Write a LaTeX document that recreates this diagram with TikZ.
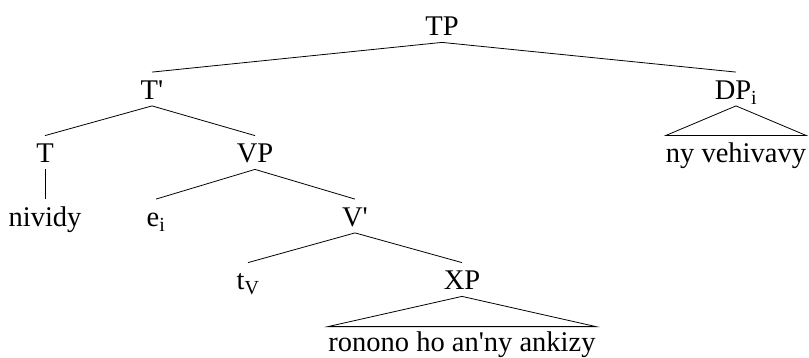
\documentclass[tikz,border=0pt]{standalone}
\usepackage{fontspec}
\setmainfont{Liberation Serif}

\tikzset{
  lbl/.style={font=\fontsize{28.5}{33}\selectfont, inner sep=0pt, text height=27pt, text depth=6pt, anchor=base}
}

\begin{document}
\begin{tikzpicture}[x=1pt, y=-1pt, line width=0.8pt]
\useasboundingbox (0, 0) rectangle (809, 358);

\node (TP) at (442, 36) [lbl] {TP};
\node (Tbar) at (152, 99.5) [lbl] {T\textquotesingle};
\node (DP) at (736, 99.5) [lbl] {DP\textsubscript{i}};
\node (T) at (45, 163) [lbl] {T};
\node (VP) at (255, 163) [lbl] {VP};
\node (DPtext) at (736, 163) [lbl] {ny vehivavy};
\node (nividy) at (45, 226.5) [lbl] {nividy};
\node (ei) at (156, 226.5) [lbl] {e\textsubscript{i}};
\node (Vbar) at (355, 226.5) [lbl] {V\textquotesingle};
\node (tV) at (248, 290) [lbl] {t\textsubscript{V}};
\node (XP) at (462, 290) [lbl] {XP};
\node (XPtext) at (462, 351) [lbl, text height=24pt] {ronono ho an\textquotesingle ny ankizy};

\draw (TP.south) edge (Tbar.north);
\draw (TP.south) edge (DP.north);
\draw (Tbar.south) edge (T.north);
\draw (Tbar.south) edge (VP.north);
\draw (T.south) edge (nividy.north);
\draw (VP.south) edge (ei.north);
\draw (VP.south) edge (Vbar.north);
\draw (Vbar.south) edge (tV.north);
\draw (Vbar.south) edge (XP.north);

% triangles
\draw (DP.south) -- (DPtext.north west) -- (DPtext.north east) -- cycle;
\draw (XP.south) -- (XPtext.north west) -- (XPtext.north east) -- cycle;
\end{tikzpicture}
\end{document}
